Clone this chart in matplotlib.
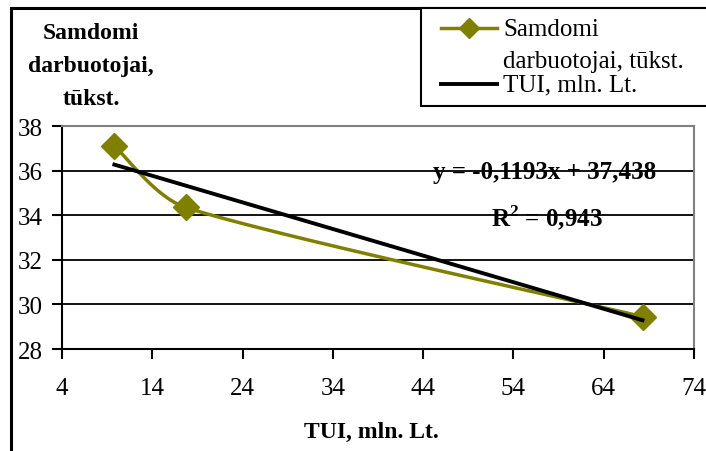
import numpy as np
import matplotlib.pyplot as plt
from matplotlib.patches import Rectangle
from matplotlib.lines import Line2D

# data
tui = [9.8, 17.7, 68.3]
samdomi = [37.1, 34.35, 29.45]
slope, intercept = -0.1193, 37.438
eq_text = "y = -0,1193x + 37,438"
r2_text = "R$^\\mathbf{2}$ = 0,943"

OLIVE = '#808000'
plt.rcParams['font.family'] = ['Liberation Serif', 'DejaVu Serif']
plt.rcParams['mathtext.fontset'] = 'custom'
plt.rcParams['mathtext.rm'] = 'Liberation Serif'
plt.rcParams['mathtext.bf'] = 'Liberation Serif:bold'

W, H = 706, 452
fig = plt.figure(figsize=(W / 100, H / 100), dpi=100)
ax = fig.add_axes([62 / W, 1 - 350 / H, (694 - 62) / W, (350 - 127) / H])
ax.set_xlim(4, 74)
ax.set_ylim(28, 38)


def smooth_line(xs, ys, n=60):
    # Excel-style smoothed line: bezier segments, control points taken
    # from neighbouring points (capped so they do not loop), display space
    pts = ax.transData.transform(np.column_stack([xs, ys]))
    p = np.vstack([pts[0], pts, pts[-1]])
    out = []
    for i in range(1, len(p) - 2):
        p0, p1, p2, p3 = p[i - 1], p[i], p[i + 1], p[i + 2]
        seg_len = np.linalg.norm(p2 - p1)
        d1 = (p2 - p0) / 6
        d2 = (p3 - p1) / 6
        cap = seg_len / 3
        if np.linalg.norm(d1) > cap:
            d1 = d1 / np.linalg.norm(d1) * cap
        if np.linalg.norm(d2) > cap:
            d2 = d2 / np.linalg.norm(d2) * cap
        c1 = p1 + d1
        c2 = p2 - d2
        t = np.linspace(0, 1, n)[:, None]
        seg = ((1 - t) ** 3 * p1 + 3 * (1 - t) ** 2 * t * c1
               + 3 * (1 - t) * t ** 2 * c2 + t ** 3 * p2)
        out.append(seg)
    s = ax.transData.inverted().transform(np.vstack(out))
    return s[:, 0], s[:, 1]


sx, sy = smooth_line(tui, samdomi)
ax.plot(sx, sy, color=OLIVE, lw=2.5, zorder=3)
ax.plot(tui, samdomi, ls='none', marker='D', ms=13, color=OLIVE, zorder=4)

tx = np.array([tui[0], tui[-1]])
ax.plot(tx, slope * tx + intercept, color='black', lw=2.8, zorder=5)

ax.set_xticks(np.arange(4, 75, 10))
ax.set_yticks(np.arange(28, 39, 2))
ax.yaxis.grid(True, color='black', lw=1.3)
ax.set_axisbelow(True)
ax.tick_params(labelsize=18, direction='out', length=7, width=1.5)
ax.tick_params(axis='x', pad=13)
ax.tick_params(axis='y', pad=7)
ax.spines['top'].set_color('#808080')
ax.spines['top'].set_linewidth(1.5)
ax.spines['top'].set_zorder(6)
ax.spines['right'].set_color('#808080')
ax.spines['right'].set_linewidth(1.5)
ax.spines['left'].set_linewidth(1.5)
ax.spines['bottom'].set_linewidth(1.5)

fig.text(545 / W, 1 - 173 / H, eq_text, ha='center', va='center',
         fontsize=18, fontweight='bold')
fig.text(547 / W, 1 - 218 / H, r2_text, ha='center', va='center',
         fontsize=18, fontweight='bold')

fig.text(371 / W, 1 - 432 / H, "TUI, mln. Lt.", ha='center', va='center',
         fontsize=17, fontweight='bold')
fig.text(91 / W, 1 - 67 / H, "Samdomi\ndarbuotojai,\ntūkst.", ha='center', va='center',
         fontsize=17, fontweight='bold', linespacing=1.75)

# outer chart border
fig.patches.append(Rectangle((11 / W, -0.1), 1.2, 1.1 - 9 / H, transform=fig.transFigure,
                             fill=False, edgecolor='black', lw=2.2, clip_on=False))

# legend box drawn by hand (layout in the original is unusual)
fig.patches.append(Rectangle((421 / W, 1 - 107 / H), 1.0, (107 - 9) / H,
                             transform=fig.transFigure, facecolor='white',
                             edgecolor='black', lw=1.5, clip_on=False, zorder=7))
fig.lines.append(Line2D([441 / W, 497 / W], [1 - 29 / H, 1 - 29 / H], transform=fig.transFigure,
                        color=OLIVE, lw=2.5, zorder=8))
fig.lines.append(Line2D([469 / W], [1 - 29 / H], transform=fig.transFigure, marker='D',
                        ms=10, color=OLIVE, zorder=9))
fig.lines.append(Line2D([441 / W, 497 / W], [1 - 85 / H, 1 - 85 / H], transform=fig.transFigure,
                        color='black', lw=2.8, zorder=8))
fig.text(503 / W, 1 - 30 / H, "Samdomi", ha='left', va='center', fontsize=18, zorder=9)
fig.text(503 / W, 1 - 62 / H, "darbuotojai, tūkst.", ha='left', va='center', fontsize=18, zorder=9)
fig.text(503 / W, 1 - 85 / H, "TUI, mln. Lt.", ha='left', va='center', fontsize=18, zorder=9)

fig.savefig("out.png", dpi=100)
